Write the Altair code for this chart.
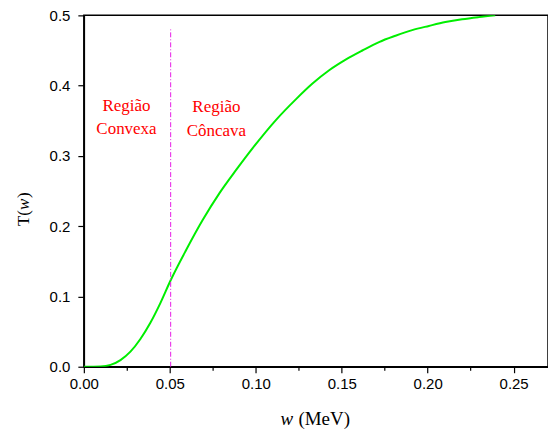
import altair as alt
import pandas as pd

# Transmission curve T(w)
w_vals = [0.0, 0.0097, 0.0155, 0.0213, 0.0271, 0.0329, 0.0387, 0.0445, 0.0505,
          0.0595, 0.0692, 0.0789, 0.0886, 0.0982, 0.1117, 0.1233, 0.133, 0.1427,
          0.1523, 0.162, 0.1717, 0.1813, 0.191, 0.2007, 0.2103, 0.22, 0.2297,
          0.2393]
t_vals = [0.0, 0.0005, 0.0026, 0.0095, 0.0215, 0.0395, 0.0625, 0.0905, 0.123,
          0.166, 0.209, 0.247, 0.280, 0.311, 0.351, 0.3805, 0.403, 0.4219,
          0.437, 0.450, 0.462, 0.471, 0.479, 0.485, 0.4905, 0.4945, 0.4975,
          0.5]

# Inflection point separating the two regions
w_inflection = [0.0505]
t_marker_top = [0.48]

# Region annotations (one entry per text line)
label_lines = ["Região", "Convexa", "Região", "Côncava"]
label_w = [0.0248, 0.0248, 0.0771, 0.0771]
label_t = [0.371, 0.338, 0.369, 0.335]

x_ticks = [0.0, 0.025, 0.05, 0.075, 0.10, 0.125, 0.15, 0.175, 0.20, 0.225, 0.25]
y_ticks = [0.0, 0.05, 0.1, 0.15, 0.2, 0.25, 0.3, 0.35, 0.4, 0.45, 0.5]

curve_df = pd.DataFrame({"w": w_vals, "T": t_vals})
marker_df = pd.DataFrame({"w": w_inflection, "t0": [0.0], "t1": t_marker_top})
labels_df = pd.DataFrame({"text": label_lines, "w": label_w, "T": label_t})

xs = alt.Scale(domain=[0, 0.27], nice=False, zero=False)
ys = alt.Scale(domain=[0, 0.5], nice=False)

SANS = "Liberation Sans"
SERIF = "Liberation Serif"

# major ticks every 0.05 (x) / 0.1 (y), labelled; minor ticks in between
x_major_test = "round(datum.value * 1000) % 50 === 0"
y_major_test = "round(datum.value * 100) % 10 === 0"

x_axis = alt.Axis(
    values=x_ticks, title=None, orient="bottom", labelPadding=4,
    labelFlush=False, labelOverlap=False,
    labelExpr=f"{x_major_test} ? format(datum.value, '.2f') : ''",
    tickSize={"condition": {"test": x_major_test, "value": 6}, "value": 3.5},
)
y_axis = alt.Axis(
    values=y_ticks, title=None, orient="left", labelPadding=8,
    labelFlush=False, labelOverlap=False,
    labelExpr=f"{y_major_test} ? format(datum.value, '.1f') : ''",
    tickSize={"condition": {"test": y_major_test, "value": 6}, "value": 3.5},
)

curve = alt.Chart(curve_df).mark_line(
    color="#00ee00", strokeWidth=2, interpolate="monotone", clip=True
).encode(
    x=alt.X("w:Q", scale=xs, axis=x_axis),
    y=alt.Y("T:Q", scale=ys, axis=y_axis),
)

marker = alt.Chart(marker_df).mark_rule(
    color="#e81ce8", strokeWidth=1, strokeDash=[5, 2, 1, 2]
).encode(
    x=alt.X("w:Q", scale=xs),
    y=alt.Y("t0:Q", scale=ys),
    y2="t1:Q",
)

labels = alt.Chart(labels_df).mark_text(
    font=SERIF, fontSize=17, color="#ff0000", align="center", baseline="middle"
).encode(
    x=alt.X("w:Q", scale=xs),
    y=alt.Y("T:Q", scale=ys),
    text="text:N",
)

one = alt.Data(values=[{}])

def title_piece(text, x, y, style="normal", align="left", angle=0, size=18):
    return alt.Chart(one).mark_text(
        font=SERIF, fontSize=size, fontStyle=style, align=align,
        baseline="middle", angle=angle, color="black"
    ).encode(x=alt.value(x), y=alt.value(y), text=alt.value(text))

# x-axis title: italic w followed by the unit
x_title = [
    title_piece("w", 197, 404, style="italic", size=19),
    title_piece("(MeV)", 215, 404, size=19),
]
# y-axis title, rotated: T(w)
y_title = [
    title_piece("T(", -60, 195, align="right", angle=270, size=17),
    title_piece("w", -60, 195, style="italic", align="left", angle=270, size=17),
    title_piece(")", -60, 183, align="left", angle=270, size=17),
]

chart = alt.layer(
    curve, marker, labels, *x_title, *y_title
).properties(
    width=465,
    height=352,
    autosize=alt.AutoSizeParams(type="none"),
    padding={"left": 84, "top": 15, "right": 0, "bottom": 67},
).configure_view(
    stroke="black", strokeWidth=1.5
).configure_axis(
    grid=False,
    domainColor="black",
    domainWidth=1.5,
    tickColor="black",
    tickWidth=1.2,
    labelFont=SANS,
    labelFontSize=15,
    labelColor="black",
)

chart.save("out.html", embed_options={"renderer": "svg", "actions": False})
